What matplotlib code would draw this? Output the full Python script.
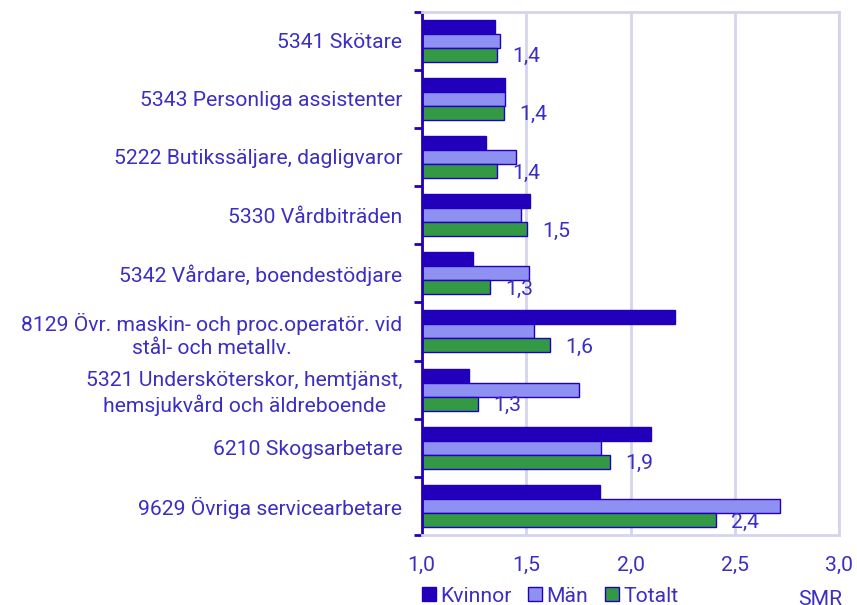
import matplotlib
matplotlib.use("Agg")
import matplotlib.pyplot as plt
import numpy as np
from matplotlib.patches import Patch
from matplotlib.ticker import FixedLocator, NullFormatter

plt.rcParams['font.family'] = ['Roboto', 'DejaVu Sans']

categories = [
    "5341 Skötare",
    "5343 Personliga assistenter",
    "5222 Butikssäljare, dagligvaror",
    "5330 Vårdbiträden",
    "5342 Vårdare, boendestödjare",
    "8129 Övr. maskin- och proc.operatör. vid\nstål- och metallv.",
    "5321 Undersköterskor, hemtjänst,\nhemsjukvård och äldreboende",
    "6210 Skogsarbetare",
    "9629 Övriga servicearbetare",
]
kvinnor = [1.35, 1.40, 1.31, 1.52, 1.245, 2.215, 1.225, 2.10, 1.855]
man = [1.375, 1.40, 1.45, 1.475, 1.515, 1.54, 1.755, 1.86, 2.715]
totalt = [1.36, 1.395, 1.36, 1.505, 1.325, 1.615, 1.27, 1.90, 2.41]
total_labels = ["1,4", "1,4", "1,4", "1,5", "1,3", "1,6", "1,3", "1,9", "2,4"]
xticks = [1.0, 1.5, 2.0, 2.5, 3.0]
xticklabels = ["1,0", "1,5", "2,0", "2,5", "3,0"]
series_names = ["Kvinnor", "Män", "Totalt"]

c_k = "#2200BB"
c_m = "#8E90F2"
c_t = "#339944"
edge = "#2200BB"
txt = "#3A2EC4"
grid = "#D4D4EE"
fs = 15.2

W, H = 857, 605
fig = plt.figure(figsize=(W / 100, H / 100), dpi=100)
ax = fig.add_axes([421.7 / W, 1 - 535 / H, (839.3 - 421.7) / W, (535 - 11.5) / H])

n = len(categories)
y = np.arange(n)
bh = 0.24
base = 1.0
ax.barh(y - bh, np.array(kvinnor) - base, left=base, height=bh, color=c_k, edgecolor=edge, linewidth=1)
ax.barh(y, np.array(man) - base, left=base, height=bh, color=c_m, edgecolor=edge, linewidth=1)
ax.barh(y + bh, np.array(totalt) - base, left=base, height=bh, color=c_t, edgecolor=edge, linewidth=1)

for i, (v, lab) in enumerate(zip(totalt, total_labels)):
    ax.annotate(lab, xy=(v, y[i] + bh), xytext=(11, -1.5), textcoords="offset points",
                ha="left", va="center", fontsize=fs, color=txt)

ax.set_xlim(1.0, 3.0)
ax.set_ylim(n - 0.5, -0.5)
ax.set_xticks(xticks)
ax.set_xticklabels(xticklabels)
ax.set_yticks(y)
ax.set_yticklabels(categories, multialignment="center", linespacing=1.25)
ax.yaxis.set_minor_locator(FixedLocator(np.arange(-0.5, n, 1.0)))
ax.yaxis.set_minor_formatter(NullFormatter())
ax.tick_params(axis="y", which="major", length=0, pad=14, labelsize=fs, labelcolor=txt)
ax.tick_params(axis="y", which="minor", length=6, width=2, color=edge, direction="out")
ax.tick_params(axis="x", which="major", length=0, pad=15, labelsize=fs, labelcolor=txt)

ax.grid(axis="x", color=grid, linewidth=2)
ax.set_axisbelow(True)
for s in ["top", "right", "bottom"]:
    ax.spines[s].set_color(grid)
    ax.spines[s].set_linewidth(2)
ax.spines["left"].set_color(edge)
ax.spines["left"].set_linewidth(2)

handles = [Patch(facecolor=c, edgecolor=edge, linewidth=1) for c in (c_k, c_m, c_t)]
fig.legend(handles, series_names, loc="lower left", bbox_to_anchor=(418 / W, 1 - 610 / H),
           ncol=3, frameon=False, fontsize=fs, handlelength=0.65, handleheight=0.65,
           handletextpad=0.2, columnspacing=0.8, labelcolor=txt, borderaxespad=0, borderpad=0.2)

fig.text(820 / W, 1 - 590 / H, "SMR", ha="center", va="top", fontsize=fs, color=txt)

fig.savefig("out.png", dpi=100)
